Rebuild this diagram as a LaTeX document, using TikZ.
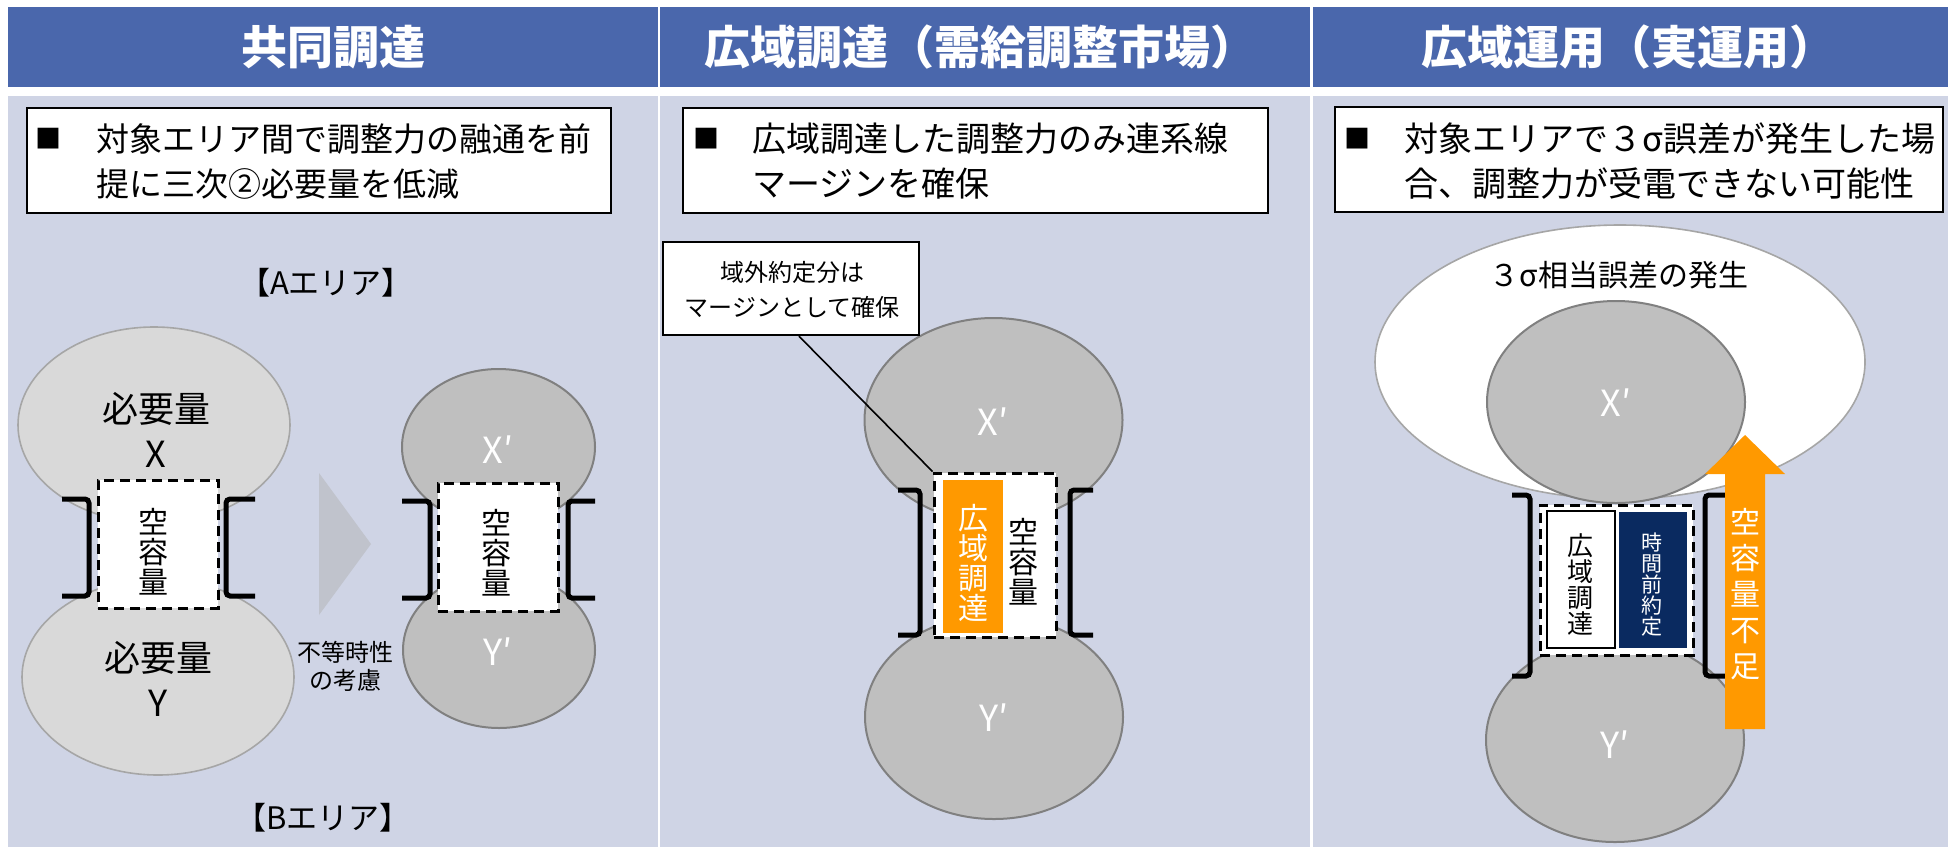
\documentclass[tikz,border=0pt]{standalone}
\usepackage{fontspec}
\setmainfont{Noto Sans CJK JP}
\usetikzlibrary{shapes.geometric,calc}
\definecolor{hdrblue}{RGB}{74,103,172}
\definecolor{bodybg}{RGB}{207,212,229}
\definecolor{lightell}{RGB}{217,217,217}
\definecolor{lightedge}{RGB}{166,166,166}
\definecolor{darkell}{RGB}{191,191,191}
\definecolor{darkedge}{RGB}{128,128,128}
\definecolor{orng}{RGB}{255,153,0}
\definecolor{navy}{RGB}{10,42,96}
\definecolor{tri}{RGB}{192,195,204}
\begin{document}
\begin{tikzpicture}[x=0.5pt,y=-0.5pt,
  hdrcell/.style={fill=hdrblue},
  bodycell/.style={fill=bodybg},
  hdrtxt/.style={text=white,font=\fontsize{23}{23}\selectfont\bfseries,inner sep=0},
  txtbox/.style={draw=black,line width=1pt,fill=white},
  bul/.style={font=\fontsize{13}{13}\selectfont,inner sep=0},
  boxtxt/.style={font=\fontsize{17}{22.5}\selectfont,align=left,inner sep=0,anchor=west},
  lightellipse/.style={ellipse,draw=lightedge,fill=lightell,line width=0.8pt,inner sep=0},
  darkellipse/.style={ellipse,draw=darkedge,fill=darkell,line width=1pt,inner sep=0},
  dashbox/.style={draw=black,fill=white,line width=1.5pt,dash pattern=on 5pt off 3pt,inner sep=0},
  brk/.style={line width=2.5pt,rounded corners=2pt},
  vtxt/.style={align=center,inner sep=0},
  elltxt/.style={align=center,inner sep=0,font=\fontsize{18}{22.5}\selectfont},
  primetxt/.style={inner sep=0,text=white,font=\fontsize{18}{18}\selectfont},
  areatxt/.style={font=\fontsize{15.5}{15.5}\selectfont,inner sep=0},
]
\useasboundingbox (0,0) rectangle (1953,847);
\fill[white] (0,0) rectangle (1953,847);
% headers
\fill[hdrcell] (8,7) rectangle (658,87);
\fill[hdrcell] (660,7) rectangle (1310,87);
\fill[hdrcell] (1313,7) rectangle (1948,87);
\node[hdrtxt] (h1) at (333,47) {共同調達};
\node[hdrtxt] (h2) at (980,47) {広域調達（需給調整市場）};
\node[hdrtxt] (h3) at (1628,47) {広域運用（実運用）};
% bodies
\fill[bodycell] (8,96) rectangle (658,847);
\fill[bodycell] (660,96) rectangle (1310,847);
\fill[bodycell] (1313,96) rectangle (1948,847);
% text boxes
\draw[txtbox] (27,108) rectangle (611,213);
\node[bul] (b1) at (48,139) {■};
\node[boxtxt,font=\fontsize{16.5}{22.5}\selectfont] (t1) at (96,161) {対象エリア間で調整力の融通を前\\提に三次②必要量を低減};
\draw[txtbox] (683,108) rectangle (1268,213);
\node[bul] (b2) at (706,139) {■};
\node[boxtxt] (t2) at (752,161) {広域調達した調整力のみ連系線\\マージンを確保};
\draw[txtbox] (1335,107) rectangle (1943,212);
\node[bul] (b3) at (1357,139) {■};
\node[boxtxt] (t3) at (1404,161) {対象エリアで３σ誤差が発生した場\\合、調整力が受電できない可能性};

% ===== column 1 =====
\node[areatxt] (areaA) at (326,283) {【Aエリア】};
\node[areatxt] (areaB) at (323,818) {【Bエリア】};
\node[lightellipse,minimum width=136pt,minimum height=98pt] (ex) at (154,425) {};
\node[lightellipse,minimum width=136pt,minimum height=98pt] (ey) at (158,677) {};
\node[elltxt] (ext) at (156,430) {必要量\\X};
\node[elltxt] (eyt) at (158,679) {必要量\\Y};
\node[dashbox,minimum width=60pt,minimum height=64pt] (db1) at (158,544) {};
\node[vtxt,font=\fontsize{15}{15}\selectfont] (s1) at (153,552) {空\\容\\量};
\draw[brk] (62,499) -- (89,499) -- (89,596) -- (62,596);
\draw[brk] (255,499) -- (226,499) -- (226,596) -- (255,596);
\fill[tri] (319,473) -- (371,544) -- (319,615) -- cycle;
\node[vtxt,font=\fontsize{12}{14}\selectfont] (fut) at (345,666) {不等時性\\の考慮};
\node[darkellipse,minimum width=96.5pt,minimum height=78pt] (ex2) at (498.5,447) {};
\node[darkellipse,minimum width=96pt,minimum height=78pt] (ey2) at (499,650) {};
\node[primetxt] (xp1) at (498,450) {X′};
\node[primetxt] (yp1) at (498,652) {Y′};
\node[dashbox,minimum width=60pt,minimum height=64pt] (db1b) at (498,547) {};
\node[vtxt,font=\fontsize{15}{15}\selectfont] (s2) at (496,553) {空\\容\\量};
\draw[brk] (402,501) -- (430,501) -- (430,598) -- (402,598);
\draw[brk] (595,501) -- (568,501) -- (568,598) -- (595,598);

% ===== column 2 =====
\node[darkellipse,minimum width=129pt,minimum height=102pt] (ex3) at (993.5,420) {};
\node[darkellipse,minimum width=129pt,minimum height=102pt] (ey3) at (994,717) {};
\node[primetxt] (xp2) at (993,422) {X′};
\node[primetxt] (yp2) at (994,718) {Y′};
\node[dashbox,minimum width=61pt,minimum height=82pt] (db2) at (995,555) {};
\fill[orng] (943,480) rectangle (1003,633);
\node[vtxt,text=white,font=\fontsize{15}{15}\selectfont] (kt2) at (973,563) {広\\域\\調\\達};
\node[vtxt,font=\fontsize{15}{15}\selectfont] (s3) at (1023,562) {空\\容\\量};
\draw[brk] (898,490) -- (920,490) -- (920,635) -- (898,635);
\draw[brk] (1093,490) -- (1070,490) -- (1070,635) -- (1093,635);
\node[draw=black,line width=1.2pt,fill=white,minimum width=128pt,minimum height=46.5pt,inner sep=0] (callout) at (791,288.5) {};
\node[vtxt,font=\fontsize{12}{17.5}\selectfont] (calltxt) at (792,290) {域外約定分は\\マージンとして確保};
\draw[line width=0.8pt] ($(callout.south)+(8,0)$) -- (db2.north west);

% ===== column 3 =====
\node[ellipse,draw=lightedge,fill=white,line width=0.8pt,minimum width=245pt,minimum height=137pt,inner sep=0] (big) at (1620,362) {};
\node[inner sep=0,font=\fontsize{15}{15}\selectfont] (sig) at (1619,275) {３σ相当誤差の発生};
\node[darkellipse,minimum width=129pt,minimum height=101pt] (ex4) at (1616,402) {};
\node[darkellipse,minimum width=129pt,minimum height=102pt] (ey4) at (1615,740) {};
\node[primetxt] (xp3) at (1616,403) {X′};
\node[primetxt] (yp3) at (1615,745) {Y′};
\node[dashbox,minimum width=76.5pt,minimum height=75pt] (db3) at (1616.5,580) {};
\draw[line width=1.3pt,fill=white] (1547,511) rectangle (1615,648);
\fill[navy] (1619,512) rectangle (1687,648);
\node[vtxt,font=\fontsize{13}{13}\selectfont] (kt3) at (1580,585) {広\\域\\調\\達};
\node[vtxt,text=white,font=\fontsize{10.5}{10.5}\selectfont] (jz) at (1652,585) {時\\間\\前\\約\\定};
\draw[brk] (1512,495) -- (1530,495) -- (1530,676) -- (1512,676);
\draw[brk] (1725,495) -- (1705,495) -- (1705,676) -- (1725,676);
\fill[orng] (1725,729) -- (1725,474) -- (1705,474) -- (1745,435) -- (1785,474) -- (1765,474) -- (1765,729) -- cycle;
\node[vtxt,text=white,font=\fontsize{15}{18}\selectfont] (fusoku) at (1745,594) {空\\容\\量\\不\\足};
\end{tikzpicture}
\end{document}
